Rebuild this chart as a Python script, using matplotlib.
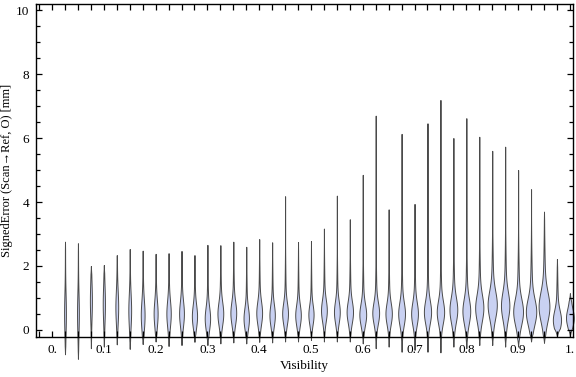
import numpy as np
import matplotlib
matplotlib.use("Agg")
import matplotlib.pyplot as plt
from matplotlib.ticker import MultipleLocator

# visibility bins (category centres)
positions = np.arange(1, 41) * 0.025

# extent, location of the bulge, half width (px), bulge spread
y_max = [2.76, 2.71, 2.00, 2.03, 2.34, 2.53, 2.48, 2.38, 2.40, 2.47,
         2.34, 2.66, 2.65, 2.76, 2.60, 2.84, 2.74, 4.18, 2.75, 2.78,
         3.17, 4.20, 3.46, 4.85, 6.70, 3.77, 6.13, 3.94, 6.46, 7.19,
         6.00, 6.62, 6.04, 5.60, 5.73, 5.00, 4.40, 3.70, 2.22, 1.15]
y_min = [-0.76, -0.90, -0.57, -0.52, -0.45, -0.59, -0.44, -0.36, -0.50, -0.47,
         -0.37, -0.47, -0.42, -0.39, -0.42, -0.37, -0.39, -0.36, -0.36, -0.31,
         -0.36, -0.36, -0.36, -0.42, -0.57, -0.52, -0.68, -0.62, -0.68, -0.70,
         -0.52, -0.57, -0.47, -0.47, -0.52, -0.52, -0.36, -0.40, -0.20, -0.20]
modes = [0.50, 0.50, 0.90, 0.80, 0.70, 0.60, 0.45, 0.50, 0.50, 0.50,
         0.42, 0.35, 0.50, 0.52, 0.35, 0.52, 0.45, 0.50, 0.45, 0.47,
         0.60, 0.55, 0.55, 0.47, 0.52, 0.50, 0.50, 0.50, 0.55, 0.55,
         0.62, 0.58, 0.68, 0.78, 0.75, 0.56, 0.56, 0.72, 0.30, 0.37]
half_w_px = [0.9, 0.9, 1.0, 1.1, 1.4, 1.4, 1.9, 2.0, 2.2, 2.4,
             2.6, 2.7, 2.9, 2.9, 2.7, 2.9, 2.7, 2.9, 2.8, 2.6,
             2.9, 2.9, 3.2, 3.4, 3.4, 3.2, 3.4, 3.4, 3.6, 3.7,
             3.9, 3.9, 4.1, 4.6, 4.2, 4.9, 5.2, 5.4, 4.1, 3.9]
spread = [0.60, 0.60, 0.55, 0.55, 0.50, 0.50, 0.45, 0.40, 0.40, 0.38,
          0.35, 0.35, 0.35, 0.35, 0.33, 0.35, 0.33, 0.33, 0.32, 0.30,
          0.33, 0.33, 0.33, 0.33, 0.33, 0.33, 0.35, 0.35, 0.35, 0.35,
          0.38, 0.38, 0.40, 0.42, 0.42, 0.40, 0.40, 0.45, 0.30, 0.28]

px_per_unit = 518.0

vpstats = []
for lo, hi, m, s in zip(y_min, y_max, modes, spread):
    yy = np.linspace(lo, hi, 300)
    dens = np.exp(-0.5 * ((yy - m) / s) ** 2) \
        + 0.22 * np.exp(-0.5 * ((yy - m - 0.4) / (2.6 * s)) ** 2)
    # taper the ends to a point
    dens = dens * np.clip((yy - lo) / 0.25, 0, 1) * np.clip((hi - yy) / 0.25, 0, 1)
    vpstats.append(dict(coords=yy, vals=dens, mean=m, median=m, min=lo, max=hi))

widths = [2 * h / px_per_unit for h in half_w_px]

plt.rcParams['font.family'] = ['Liberation Serif', 'DejaVu Serif']

fig = plt.figure(figsize=(5.76, 3.77), dpi=100)
ax = fig.add_axes([36 / 576, 40 / 377, 537 / 576, 333 / 377])

parts = ax.violin(vpstats, positions=positions, widths=widths,
                  showextrema=False, showmeans=False, showmedians=False)
for body in parts['bodies']:
    body.set_facecolor('#c9d1f2')
    body.set_edgecolor('#4a4a4a')
    body.set_linewidth(0.7)
    body.set_alpha(1)
    body.set_clip_on(False)

ax.set_xlim(-0.031, 1.006)
ax.set_ylim(-0.22, 10.19)

ax.xaxis.set_minor_locator(MultipleLocator(0.025))
xt = np.round(np.arange(0, 1.01, 0.1), 1)
ax.set_xticks(xt)
ax.set_xticklabels(["0." if v == 0 else ("1." if v == 1 else f"{v:.1f}") for v in xt])
ax.yaxis.set_major_locator(MultipleLocator(2))
ax.yaxis.set_minor_locator(MultipleLocator(0.5))

ax.tick_params(which='both', direction='in', top=True, right=True,
               labelsize=9.5, width=0.9, color='black')
ax.tick_params(axis='x', which='both', length=4)
ax.tick_params(axis='y', which='major', length=4.5)
ax.tick_params(axis='y', which='minor', length=2.8)
ax.tick_params(which='major', pad=5)
for sp in ax.spines.values():
    sp.set_linewidth(1.0)

ax.set_xlabel("Visibility", fontsize=9.5, labelpad=3)
ax.set_ylabel("SignedError (Scan\u2192Ref, O) [mm]", fontsize=9, labelpad=2)

fig.savefig("out.png", dpi=100)
